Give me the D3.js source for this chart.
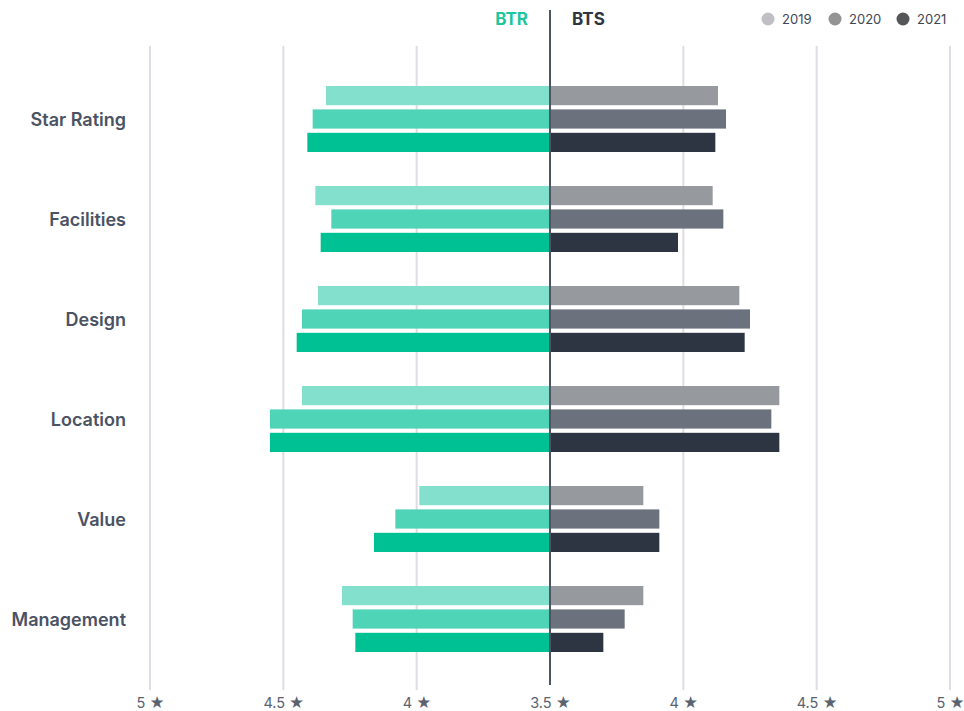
<!DOCTYPE html>
<html lang="en">
<head>
<meta charset="UTF-8">
<title>BTR vs BTS</title>
<script src="https://d3js.org/d3.v7.min.js"></script>
<style>
  body { margin: 0; background: #fff; }
  text { font-family: Inter, "Open Sans", sans-serif; }
  .cat { font-size: 18px; font-weight: 600; fill: #4a5263; }
  .tick-lbl { font-size: 14.5px; fill: #5b6270; }
  .legend text { font-size: 13px; fill: #3f4654; }
</style>
</head>
<body>
<svg width="964" height="711"></svg>
<script>
var categories = ["Star Rating", "Facilities", "Design", "Location", "Value", "Management"];
var years = ["2019", "2020", "2021"];
// BTR (left side) ratings per year
var btr2019 = [4.34, 4.38, 4.37, 4.43, 3.99, 4.28];
var btr2020 = [4.39, 4.32, 4.43, 4.55, 4.08, 4.24];
var btr2021 = [4.41, 4.36, 4.45, 4.55, 4.16, 4.23];
// BTS (right side)
var bts2019 = [4.13, 4.11, 4.21, 4.36, 3.85, 3.85];
var bts2020 = [4.16, 4.15, 4.25, 4.33, 3.91, 3.78];
var bts2021 = [4.12, 3.98, 4.23, 4.36, 3.91, 3.70];
var tickValues = [3.5, 4, 4.5, 5];

var btrColors = ["#82e0cc", "#4fd4b7", "#00c194"];
var btsColors = ["#969a9f", "#6b727d", "#2e3542"];
var legendColors = ["#c0c0c4", "#939393", "#555658"];

var svg = d3.select("svg");
var cx = 550, halfW = 400;

var xRight = d3.scaleLinear().domain([3.5, 5]).range([cx, cx + halfW]);
var xLeft = d3.scaleLinear().domain([3.5, 5]).range([cx, cx - halfW]);

var y = d3.scaleBand().domain(categories).range([69, 669]);
var yInner = d3.scaleBand().domain(years).range([-33, 33]).paddingInner(0.18);

var gridTop = 46, gridBottom = 685;

// gridlines
var grid = svg.append("g");
tickValues.filter(function (t) { return t !== 3.5; }).forEach(function (t) {
  [xLeft(t), xRight(t)].forEach(function (x) {
    grid.append("line")
      .attr("x1", x).attr("x2", x)
      .attr("y1", gridTop).attr("y2", gridBottom + 5)
      .attr("stroke", "#dedde3").attr("stroke-width", 2);
  });
});

// bars
var btr = [btr2019, btr2020, btr2021];
var bts = [bts2019, bts2020, bts2021];
var bars = svg.append("g");
categories.forEach(function (c, i) {
  var yc = y(c) + y.bandwidth() / 2;
  years.forEach(function (yr, j) {
    var by = yc + yInner(yr);
    bars.append("rect")
      .attr("x", xLeft(btr[j][i])).attr("y", by)
      .attr("width", cx - xLeft(btr[j][i])).attr("height", yInner.bandwidth())
      .attr("fill", btrColors[j]);
    bars.append("rect")
      .attr("x", cx).attr("y", by)
      .attr("width", xRight(bts[j][i]) - cx).attr("height", yInner.bandwidth())
      .attr("fill", btsColors[j]);
  });
  svg.append("text").attr("class", "cat")
    .attr("x", 126).attr("y", yc)
    .attr("text-anchor", "end").attr("dominant-baseline", "central")
    .text(c);
});

// centre line
svg.append("line")
  .attr("x1", cx).attr("x2", cx).attr("y1", 10).attr("y2", gridBottom)
  .attr("stroke", "#4d5563").attr("stroke-width", 2);

// bottom axes
var axL = svg.append("g").attr("transform", "translate(0," + (gridBottom + 10) + ")")
  .call(d3.axisBottom(xLeft).tickValues(tickValues.slice(1)).tickSize(0)
        .tickFormat(function (d) { return d + " \u2605"; }));
var axR = svg.append("g").attr("transform", "translate(0," + (gridBottom + 10) + ")")
  .call(d3.axisBottom(xRight).tickValues(tickValues).tickSize(0)
        .tickFormat(function (d) { return d + " \u2605"; }));
[axL, axR].forEach(function (a) {
  a.select(".domain").remove();
  a.selectAll("text").attr("class", "tick-lbl").attr("fill", null)
    .style("font-size", "14.5px").style("font-family", "Inter, 'Open Sans', sans-serif");
});

// headers
svg.append("text").attr("x", cx - 22).attr("y", 25).attr("text-anchor", "end")
  .style("font-size", "17px").style("font-weight", "bold").attr("fill", "#1cc79c").text("BTR");
svg.append("text").attr("x", cx + 22).attr("y", 25)
  .style("font-size", "17px").style("font-weight", "bold").attr("fill", "#2e3542").text("BTS");

// legend
var legX = [768, 835, 903];
var leg = svg.append("g").attr("class", "legend");
years.forEach(function (yr, j) {
  leg.append("circle").attr("cx", legX[j]).attr("cy", 19).attr("r", 6.5).attr("fill", legendColors[j]);
  leg.append("text").attr("x", legX[j] + 14).attr("y", 19)
    .attr("dominant-baseline", "central").text(yr);
});
</script>
</body>
</html>
